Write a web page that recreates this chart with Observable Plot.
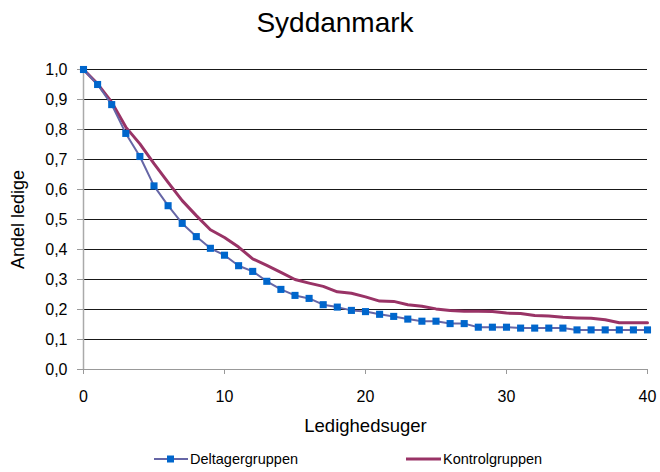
<!DOCTYPE html>
<html>
<head>
<meta charset="utf-8">
<script src="https://cdn.jsdelivr.net/npm/d3@7"></script>
<script src="https://cdn.jsdelivr.net/npm/@observablehq/plot@0.6"></script>
<style>
  body { margin: 0; background: #fff; font-family: "Liberation Sans", Arial, sans-serif; }
  #wrap { width: 660px; position: relative; }
  #title { height: 48px; line-height: 46px; text-align: center; font-size: 28px; color: #000; padding-left: 10px; box-sizing: border-box; }
  #legend { position: relative; height: 29px; font-size: 14.5px; color: #000; }
  .item { position: absolute; top: 8px; display: flex; align-items: center; }
  .item svg { display: block; }
</style>
</head>
<body>
<div id="wrap">
  <div id="title">Syddanmark</div>
  <div id="chart"></div>
  <div id="legend"></div>
</div>
<script>
const weeks = d3.range(0, 41);
const deltager = [1.00, 0.95, 0.883, 0.787, 0.71, 0.612, 0.546, 0.487, 0.443, 0.404,
  0.381, 0.346, 0.327, 0.294, 0.267, 0.247, 0.237, 0.216, 0.208, 0.197,
  0.193, 0.184, 0.177, 0.168, 0.161, 0.161, 0.153, 0.153, 0.141, 0.141,
  0.141, 0.138, 0.138, 0.138, 0.138, 0.132, 0.132, 0.132, 0.132, 0.132, 0.132];
const kontrol = [1.00, 0.952, 0.891, 0.808, 0.752, 0.686, 0.624, 0.563, 0.513, 0.466,
  0.440, 0.408, 0.369, 0.347, 0.324, 0.300, 0.288, 0.277, 0.259, 0.254,
  0.242, 0.228, 0.227, 0.216, 0.211, 0.202, 0.197, 0.194, 0.194, 0.193,
  0.188, 0.187, 0.180, 0.178, 0.174, 0.172, 0.171, 0.166, 0.156, 0.156, 0.156];
const seriesNames = ["Deltagergruppen", "Kontrolgruppen"];
const yTicks = [0, 0.1, 0.2, 0.3, 0.4, 0.5, 0.6, 0.7, 0.8, 0.9, 1.0];
const xTicks = [0, 10, 20, 30, 40];

const dData = weeks.map((w, i) => ({week: w, value: deltager[i]}));
const kData = weeks.map((w, i) => ({week: w, value: kontrol[i]}));

const comma = d => d.toFixed(1).replace(".", ",");

const chart = Plot.plot({
  width: 660,
  height: 395,
  marginLeft: 83,
  marginRight: 13,
  marginTop: 21,
  marginBottom: 74,
  style: {fontFamily: "Liberation Sans, Arial, sans-serif", fontSize: "16px", color: "#000", background: "#fff"},
  x: {domain: [0, 40]},
  y: {domain: [0, 1]},
  marks: [
    Plot.ruleY(yTicks.filter(d => d > 0), {stroke: "#000", strokeWidth: 1, strokeOpacity: 0.9}),
    Plot.ruleY([0], {stroke: "#999", strokeWidth: 1}),
    Plot.ruleX([0], {stroke: "#aaa", strokeWidth: 1.5}),
    Plot.axisY({ticks: yTicks, tickFormat: comma, tickSize: 6, tickPadding: 10, stroke: "#999",
      fontSize: 16, label: null}),
    Plot.axisY({ticks: [], label: "Andel ledige", labelAnchor: "center", labelOffset: 72, labelArrow: "none", fontSize: 18}),
    Plot.axisX({ticks: xTicks, tickSize: 5, tickPadding: 16, stroke: "#999", fontSize: 16, label: null}),
    Plot.axisX({ticks: [], label: "Ledighedsuger", labelAnchor: "center", labelOffset: 62, labelArrow: "none", fontSize: 18.5}),
    Plot.line(kData, {x: "week", y: "value", stroke: "#993366", strokeWidth: 3}),
    Plot.line(dData, {x: "week", y: "value", stroke: "#6666A6", strokeWidth: 2}),
    Plot.dot(dData, {x: "week", y: "value", symbol: "square", r: 4, fill: "#0066CC", stroke: "none"})
  ]
});
document.getElementById("chart").appendChild(chart);

// legend
const legend = document.getElementById("legend");
const items = [
  {name: seriesNames[0], left: 154, svg: '<svg width="34" height="12"><line x1="0" y1="6" x2="34" y2="6" stroke="#6666A6" stroke-width="2"/><rect x="13" y="2.5" width="7" height="7" fill="#0066CC"/></svg>'},
  {name: seriesNames[1], left: 406, svg: '<svg width="35" height="12"><line x1="0" y1="6" x2="35" y2="6" stroke="#993366" stroke-width="3"/></svg>'}
];
for (const it of items) {
  const div = document.createElement("div");
  div.className = "item";
  div.style.left = it.left + "px";
  div.innerHTML = it.svg + '<span style="margin-left:2px">' + it.name + '</span>';
  legend.appendChild(div);
}
</script>
</body>
</html>
